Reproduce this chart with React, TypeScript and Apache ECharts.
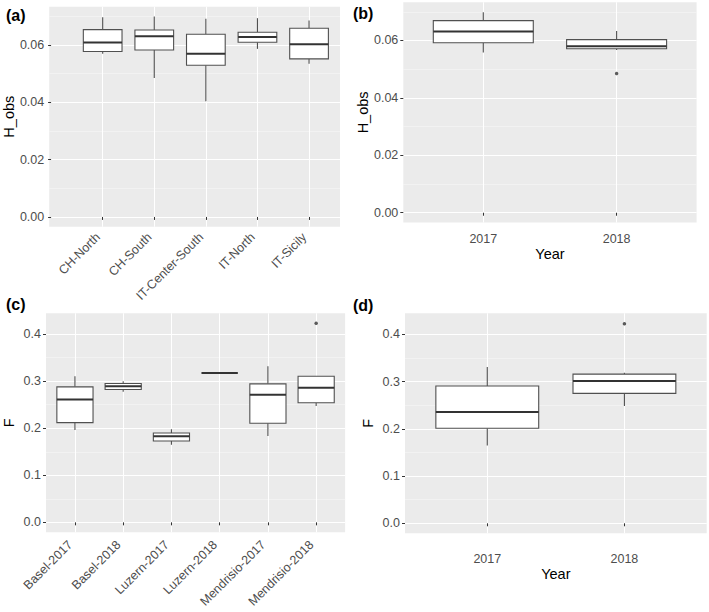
import React, { useEffect, useRef } from "react";
import * as echarts from "echarts";

// ---- data ----
// panel (a): H_obs by region  [min, Q1, median, Q3, max]
const regionCats = ["CH-North", "CH-South", "IT-Center-South", "IT-North", "IT-Sicily"];
const regionHobs = [
  [0.0569, 0.0577, 0.0608, 0.0653, 0.0696],
  [0.0484, 0.0582, 0.0630, 0.0652, 0.0699],
  [0.0403, 0.0529, 0.0569, 0.0637, 0.0691],
  [0.0586, 0.0609, 0.0627, 0.0644, 0.0693],
  [0.0534, 0.0551, 0.0602, 0.0658, 0.0685],
];
// panel (b): H_obs by year
const yearCats = ["2017", "2018"];
const yearHobs = [
  [0.0558, 0.0592, 0.0631, 0.0669, 0.0698],
  [0.0567, 0.0571, 0.0580, 0.0603, 0.0633],
];
const yearHobsOutliers = [[2, 0.0485]];
// panel (c): F by site-year
const siteCats = ["Basel-2017", "Basel-2018", "Luzern-2017", "Luzern-2018", "Mendrisio-2017", "Mendrisio-2018"];
const siteF = [
  [0.1965, 0.212, 0.2613, 0.288, 0.3106],
  [0.2775, 0.2824, 0.2894, 0.295, 0.300],
  [0.165, 0.173, 0.183, 0.190, 0.198],
  [0.3176, 0.3176, 0.3176, 0.3176, 0.3176],
  [0.1838, 0.2106, 0.2711, 0.2944, 0.3317],
  [0.2472, 0.2542, 0.2859, 0.3106, 0.3106],
];
const siteFOutliers = [[6, 0.4232]];
// panel (d): F by year
const yearF = [
  [0.1645, 0.201, 0.2355, 0.2904, 0.331],
  [0.2482, 0.2749, 0.3009, 0.3156, 0.3184],
];
const yearFOutliers = [[2, 0.4225]];

const hobsMajor = [0, 0.02, 0.04, 0.06];
const hobsMinor = [0.01, 0.03, 0.05, 0.07];
const fMajor = [0, 0.1, 0.2, 0.3, 0.4];
const fMinor = [0.05, 0.15, 0.25, 0.35];

const FONT = "'Liberation Sans', Arial, Helvetica, sans-serif";
const PANEL_BG = "#EBEBEB";

function withPos(rows: number[][]) {
  return rows.map((r, i) => [i + 1, ...r]);
}

const renderBox = (_params: any, api: any) => {
  const x = api.value(0);
  const lo = api.coord([x, api.value(1)]);
  const q1 = api.coord([x, api.value(2)]);
  const md = api.coord([x, api.value(3)]);
  const q3 = api.coord([x, api.value(4)]);
  const hi = api.coord([x, api.value(5)]);
  const w = api.size([0.75, 0])[0];
  const cx = q1[0];
  const stroke = "#505050";
  return {
    type: "group",
    children: [
      { type: "line", shape: { x1: cx, y1: q3[1], x2: cx, y2: hi[1] }, style: { stroke, lineWidth: 1.1 } },
      { type: "line", shape: { x1: cx, y1: q1[1], x2: cx, y2: lo[1] }, style: { stroke, lineWidth: 1.1 } },
      {
        type: "rect",
        shape: { x: cx - w / 2, y: q3[1], width: w, height: q1[1] - q3[1] },
        style: { fill: "#ffffff", stroke, lineWidth: 1.1 },
      },
      {
        type: "line",
        shape: { x1: cx - w / 2, y1: md[1], x2: cx + w / 2, y2: md[1] },
        style: { stroke: "#333333", lineWidth: 2 },
      },
    ],
  };
};

export default function App() {
  const ref = useRef<HTMLDivElement>(null);
  useEffect(() => {
    document.body.style.margin = "0";
    const chart = echarts.init(ref.current!, null, { renderer: "svg" });

    const grids = [
      { left: 44.3, top: 6.7, width: 295.7, height: 220 },
      { left: 403.3, top: 2.3, width: 293.3, height: 220.2 },
      { left: 44.3, top: 313.3, width: 300.8, height: 219 },
      { left: 405, top: 313.3, width: 301.7, height: 220 },
    ].map((g) => ({ ...g, show: true, backgroundColor: PANEL_BG, borderWidth: 0 }));

    const panels = [
      { cats: regionCats, xmin: -0.036, xmax: 5.6, ymin: -0.0034, ymax: 0.0733, major: hobsMajor, minor: hobsMinor, dec: 2, yName: "H_obs", xName: "", rotate: 45, margin: 13 },
      { cats: yearCats, xmin: 0.4, xmax: 2.6, ymin: -0.0034, ymax: 0.0733, major: hobsMajor, minor: hobsMinor, dec: 2, yName: "H_obs", xName: "Year", rotate: 0, margin: 10, nameGap: 22 },
      { cats: siteCats, xmin: 0.4, xmax: 6.6, ymin: -0.0212, ymax: 0.4444, major: fMajor, minor: fMinor, dec: 1, yName: "F", xName: "", rotate: 45, margin: 15 },
      { cats: yearCats, xmin: 0.4, xmax: 2.6, ymin: -0.0212, ymax: 0.4444, major: fMajor, minor: fMinor, dec: 1, yName: "F", xName: "Year", rotate: 0, margin: 19, nameGap: 32 },
    ];

    const xAxis: any[] = [];
    const yAxis: any[] = [];
    panels.forEach((p, i) => {
      const idx = p.cats.map((_, k) => k + 1);
      const rotLabel = p.rotate ? { align: "right", verticalAlign: "bottom" } : {};
      xAxis.push({
        type: "value",
        gridIndex: i,
        min: p.xmin,
        max: p.xmax,
        name: p.xName,
        nameLocation: "middle",
        nameGap: (p as any).nameGap || 20,
        nameTextStyle: { fontFamily: FONT, fontSize: 14.5, color: "#000" },
        axisLine: { show: false },
        axisTick: { show: true, customValues: idx, length: 3, lineStyle: { color: "#333333", width: 1 } },
        axisLabel: {
          customValues: idx,
          rotate: p.rotate,
          margin: p.margin,
          fontFamily: FONT,
          fontSize: 12.5,
          color: "#4D4D4D",
          ...rotLabel,
          formatter: (v: number) => p.cats[Math.round(v) - 1] ?? "",
        },
        splitLine: { show: true, lineStyle: { color: "#ffffff", width: 1.1 } },
      });
      yAxis.push({
        type: "value",
        gridIndex: i,
        min: p.ymin,
        max: p.ymax,
        name: p.yName,
        nameLocation: "middle",
        nameGap: 30,
        nameTextStyle: { fontFamily: FONT, fontSize: 14.5, color: "#000" },
        axisLine: { show: false },
        axisTick: { show: true, customValues: p.major, length: 3, lineStyle: { color: "#333333", width: 1 } },
        axisLabel: {
          customValues: p.major,
          margin: 5,
          fontFamily: FONT,
          fontSize: 12.5,
          color: "#4D4D4D",
          formatter: (v: number) => v.toFixed(p.dec),
        },
        splitLine: { show: true, lineStyle: { color: "#ffffff", width: 1.1 } },
      });
      yAxis.push({
        type: "value",
        gridIndex: i,
        position: "left",
        min: p.ymin,
        max: p.ymax,
        axisLine: { show: false },
        axisTick: { show: false, customValues: p.minor },
        axisLabel: { show: false, customValues: p.minor },
        splitLine: { show: true, lineStyle: { color: "#F7F7F7", width: 0.6 } },
      });
    });

    const boxData = [regionHobs, yearHobs, siteF, yearF];
    const outliers = [[], yearHobsOutliers, siteFOutliers, yearFOutliers];
    const series: any[] = [];
    boxData.forEach((rows, i) => {
      series.push({
        type: "custom",
        xAxisIndex: i,
        yAxisIndex: i * 2,
        renderItem: renderBox,
        encode: { x: 0, y: [1, 2, 3, 4, 5] },
        data: withPos(rows),
        z: 3,
      });
      if (outliers[i].length) {
        series.push({
          type: "scatter",
          xAxisIndex: i,
          yAxisIndex: i * 2,
          data: outliers[i],
          symbolSize: 3.5,
          itemStyle: { color: "#333333" },
          z: 4,
        });
      }
    });

    const label = (text: string, x: number, y: number) => ({
      type: "text",
      x,
      y,
      style: { text, font: `bold 16px ${FONT}`, fill: "#000", verticalAlign: "middle" },
    });

    chart.setOption({
      animation: false,
      backgroundColor: "#ffffff",
      grid: grids,
      xAxis,
      yAxis,
      series,
      graphic: [label("(a)", 6, 15), label("(b)", 353, 13), label("(c)", 6, 304), label("(d)", 353, 305)],
    });
    return () => chart.dispose();
  }, []);
  return <div ref={ref} style={{ position: "absolute", left: 0, top: 0, width: 709, height: 612 }} />;
}
